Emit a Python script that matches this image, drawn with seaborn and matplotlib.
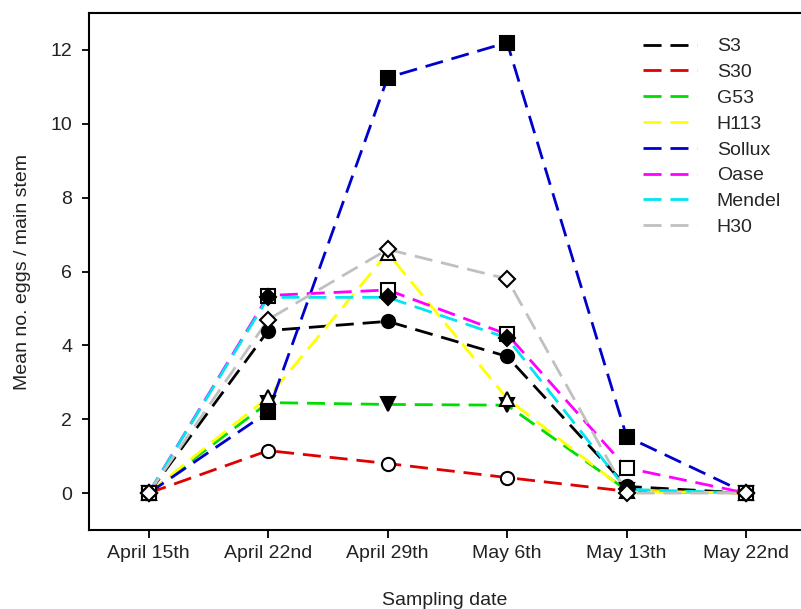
import matplotlib
matplotlib.use("Agg")
import matplotlib.pyplot as plt
from matplotlib.lines import Line2D
import seaborn as sns
import pandas as pd
import numpy as np

dates = ["April 15th", "April 22nd", "April 29th", "May 6th", "May 13th", "May 22nd"]
series_names = ["S3", "S30", "G53", "H113", "Sollux", "Oase", "Mendel", "H30"]

s3 = [0, 4.4, 4.65, 3.7, 0.18, 0]
s30 = [0, 1.15, 0.8, 0.42, 0.05, 0]
g53 = [0, 2.45, 2.4, 2.38, 0.08, 0]
h113 = [0, 2.6, 6.5, 2.56, 0.05, 0]
sollux = [0, 2.2, 11.25, 12.2, 1.53, 0]
oase = [0, 5.35, 5.5, 4.3, 0.68, 0]
mendel = [0, 5.3, 5.3, 4.2, 0.1, 0]
h30 = [0, 4.7, 6.6, 5.8, 0, 0]
values = [s3, s30, g53, h113, sollux, oase, mendel, h30]

colors = ["#000000", "#e00000", "#00dd00", "#ffff00", "#0000cc", "#ff00ff", "#00e5ee", "#c0c0c0"]
markers = ["o", "o", "v", "^", "s", "s", "D", "D"]
filled = [True, False, True, False, True, False, True, False]

rows = []
for name, vals in zip(series_names, values):
    for i, v in enumerate(vals):
        rows.append({"series": name, "x": i, "value": v})
df = pd.DataFrame(rows)

sns.set_theme(style="ticks")
plt.rcParams["font.family"] = ["Liberation Sans", "DejaVu Sans"]

FS = 14
fig = plt.figure(figsize=(8.01, 6.09), dpi=100)
ax = fig.add_axes([89 / 801, 1 - 530 / 609, 1 - 89 / 801, (530 - 13) / 609])

ls = (0, (6.5, 3.2))
for name, c in zip(series_names, colors):
    sub = df[df["series"] == name]
    sns.lineplot(data=sub, x="x", y="value", color=c, linewidth=2.0,
                 linestyle=ls, ax=ax, zorder=2, legend=False)

for name, m, f in zip(series_names, markers, filled):
    sub = df[df["series"] == name]
    ms = 9.5 if m != "D" else 8
    ax.plot(sub["x"], sub["value"], linestyle="none", marker=m, markersize=ms,
            markerfacecolor="black" if f else "white", markeredgecolor="black",
            markeredgewidth=1.5, zorder=3)

ax.set_xlim(-0.5, 5.46)
ax.set_ylim(-1, 13)
ax.set_xticks(range(len(dates)))
ax.set_xticklabels(dates)
ax.set_yticks([0, 2, 4, 6, 8, 10, 12])
ax.tick_params(axis="x", direction="out", length=5.5, width=1.3, pad=5, labelsize=FS,
               color="black", labelcolor="#222222")
ax.tick_params(axis="y", direction="out", length=5, width=1.3, pad=7, labelsize=FS,
               color="black", labelcolor="#222222")
for sp in ax.spines.values():
    sp.set_linewidth(1.5)
    sp.set_color("black")
ax.spines["right"].set_visible(False)

ax.set_xlabel("Sampling date", fontsize=FS, labelpad=22, color="#222222")
ax.set_ylabel("Mean no. eggs / main stem", fontsize=FS, labelpad=14, color="#222222")

handles = [Line2D([0], [0], color=c, linewidth=2.0, linestyle=ls) for c in colors]
leg = ax.legend(handles, series_names, loc="upper left", bbox_to_anchor=(0.778, 0.952),
                borderaxespad=0, borderpad=0,
                frameon=False, fontsize=FS, handlelength=2.8, handletextpad=1.0,
                labelspacing=0.42)

fig.savefig("out.png", dpi=100)
